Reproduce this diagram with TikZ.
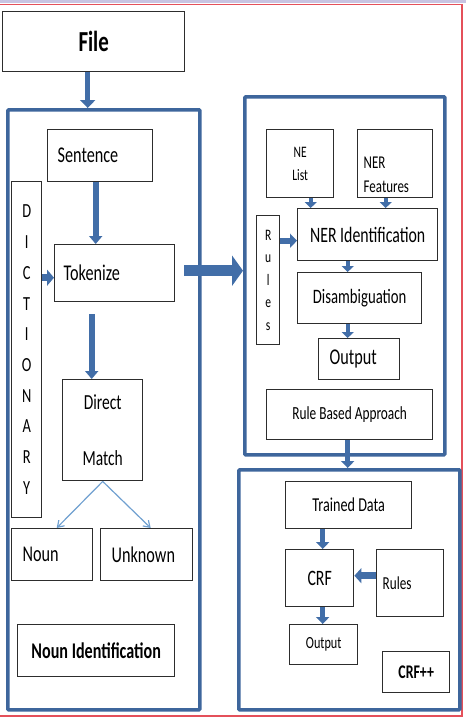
\documentclass[tikz,border=0pt]{standalone}
\usepackage{fontspec}
\setmainfont{Carlito}[FakeStretch=0.72]
\usetikzlibrary{arrows.meta,positioning}
\definecolor{panelblue}{RGB}{62,102,156}
\definecolor{arrowblue}{RGB}{66,110,168}
\definecolor{thinblue}{RGB}{112,160,208}
\definecolor{boxgray}{RGB}{45,45,45}
\definecolor{framered}{RGB}{228,80,90}
\definecolor{topband}{RGB}{200,196,226}

\begin{document}
\begin{tikzpicture}[x=1pt, y=-1pt,
        every node/.style={anchor=north west, inner sep=0pt},
        box/.style={draw=boxgray, line width=1.4pt, align=center},
        lbox/.style={box, align=left, inner xsep=#1},
        panel/.style={draw=panelblue, line width=3.6pt, rounded corners=1pt},
        fs/.style 2 args={font=\fontsize{#1}{#2}\selectfont},
        blk/.style n args={3}{draw=arrowblue, line width=#1, -{Triangle[length=#2, width=#3]}},
        thin/.style={draw=thinblue, line width=1.2pt, -{Straight Barb[length=6pt, width=8pt]}}]

        \useasboundingbox (0,0) rectangle (466,728);
        \fill[topband] (0,0) rectangle (466,3);
        \draw[framered, line width=1.3pt] (-2,4.5) -- (462,4.5) -- (462,716) -- (-2,716);

        \node[box, minimum width=182, minimum height=60, font=\bfseries\fontsize{29}{34}\selectfont] (file) at (2,11) {File};

        \node[panel, minimum width=192, minimum height=600] (lpanel) at (6,108) {};
        \node[panel, minimum width=200, minimum height=358] (rpanel) at (243,95) {};
        \node[panel, minimum width=221, minimum height=240] (bpanel) at (237,468) {};

        \node[lbox=10pt, text width=85, minimum height=52, fs={22.5}{27}] (sent) at (47,129) {Sentence};
        \node[box, minimum width=30, minimum height=336, fs={20}{30.7}] (dict) at (11,181) {D\\I\\C\\T\\I\\O\\N\\A\\R\\Y};
        \node[lbox=9pt, text width=102, minimum height=57, fs={22.5}{27}] (tok) at (54,244) {Tokenize};
        \node[box, minimum width=80, minimum height=101, fs={21.5}{26}] (dm) at (62,379) {Direct\\[30pt]Match};
        \node[lbox=11pt, text width=59, minimum height=52, fs={22.5}{27}] (noun) at (11,528) {Noun};
        \node[lbox=11pt, text width=70, minimum height=52, fs={22.5}{27}] (unk) at (100,528) {Unknown};
        \node[box, minimum width=157, minimum height=52, font=\bfseries\fontsize{22.4}{27}\selectfont] (nounid) at (17,624) {Noun Identification};

        \node[box, minimum width=67, minimum height=68, fs={16}{23}] (nelist) at (266,129) {NE\\List};
        \node[lbox=6pt, text width=63, minimum height=68, fs={18}{24}] (nerfeat) at (357,129) {\mbox{}\\[10pt]NER\\Features};
        \node[box, minimum width=140, minimum height=52, fs={22}{26}] (nerid) at (297,208) {NER Identification};
        \node[box, minimum width=23, minimum height=129, fs={16}{22.5}] (rules) at (256,215) {R\\u\\l\\e\\s};
        \node[box, minimum width=124, minimum height=51, fs={20.5}{25}] (disamb) at (297,272) {Disambiguation};
        \node[lbox=11pt, text width=59, minimum height=41, fs={22.5}{27}] (outA) at (318,338) {Output};
        \node[box, minimum width=166, minimum height=50, fs={18.5}{22}] (rba) at (266,389) {Rule Based Approach};

        \node[box, minimum width=126, minimum height=47, fs={19.7}{24}] (trained) at (285,481) {Trained Data};
        \node[box, minimum width=68, minimum height=57, fs={22}{26}] (crf) at (285,549) {CRF};
        \node[lbox=6pt, text width=55, minimum height=67, fs={18.3}{22}] (rulesB) at (376,549) {Rules};
        \node[box, minimum width=68, minimum height=40, fs={17}{20}] (outB) at (289,624) {Output};
        \node[box, minimum width=67, minimum height=41, font=\bfseries\fontsize{19.3}{23}\selectfont] (crfpp) at (382,651) {CRF++};

        \draw[blk={5pt}{8pt}{15pt}] ([xshift=-6pt]file.south) -- ([xshift=-6pt]file.south |- lpanel.north);
        \draw[blk={6pt}{8pt}{13pt}] ([xshift=-4.5pt]sent.south) -- ([xshift=-4.5pt]sent.south |- tok.north);
        \draw[blk={7pt}{7pt}{16pt}] ([yshift=-4.5pt]tok.west -| dict.east) -- ([yshift=-4.5pt]tok.west);
        \draw[blk={6pt}{8pt}{13pt}] ([xshift=-23pt,yshift=-12pt]tok.south) -- ([xshift=-23pt]tok.south |- dm.north);
        \draw[blk={11pt}{11pt}{30pt}] ([xshift=9pt,yshift=2.5pt]tok.east) -- ([yshift=2.5pt]tok.east -| rpanel.west);
        \draw[thin] (dm.south) -- ([xshift=4.5pt]noun.north);
        \draw[thin] (dm.south) -- ([xshift=4pt]unk.north);

        \draw[blk={4pt}{6pt}{12pt}] ([xshift=10.5pt]nelist.south) -- ([xshift=10.5pt]nelist.south |- nerid.north);
        \draw[blk={4pt}{6pt}{12pt}] ([xshift=-9.5pt]nerfeat.south) -- ([xshift=-9.5pt]nerfeat.south |- nerid.north);
        \draw[blk={6pt}{7pt}{14pt}] ([yshift=-6pt]nerid.west -| rules.east) -- ([yshift=-6pt]nerid.west);
        \draw[blk={4pt}{6pt}{12pt}] ([xshift=-20pt]nerid.south) -- ([xshift=-20pt]nerid.south |- disamb.north);
        \draw[blk={4pt}{6pt}{12pt}] ([xshift=-12pt]disamb.south) -- ([xshift=-12pt]disamb.south |- outA.north);
        \draw[blk={5pt}{7pt}{13pt}] ([xshift=-2pt]rba.south) -- ([xshift=-2pt]rba.south |- bpanel.north);

        \draw[blk={5pt}{7pt}{13pt}] ([xshift=3pt]crf.north |- trained.south) -- ([xshift=3pt]crf.north);
        \draw[blk={7pt}{7pt}{15pt}] ([yshift=2.5pt]crf.east -| rulesB.west) -- ([yshift=2.5pt]crf.east);
        \draw[blk={5pt}{7pt}{13pt}] ([xshift=3pt]crf.south) -- ([xshift=3pt]crf.south |- outB.north);

    \end{tikzpicture}
\end{document}
